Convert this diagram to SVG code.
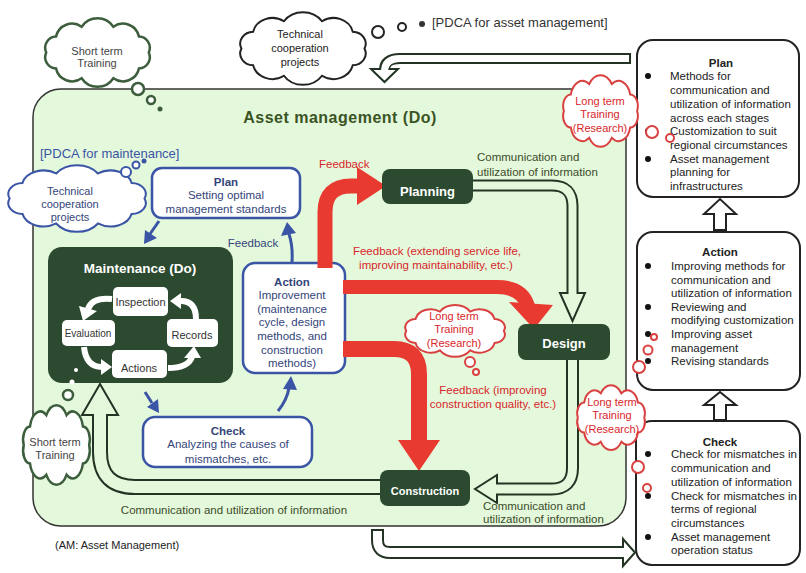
<svg xmlns="http://www.w3.org/2000/svg" width="806" height="573" viewBox="0 0 806 573">
<style>
text{font-family:"Liberation Sans",Arial,Helvetica,sans-serif;font-size:11.5px;fill:#222}
.m{text-anchor:middle}
.b{font-weight:bold}
.red{fill:#d8262a}
.blu{fill:#33457a}
.grn{fill:#3b4c2a}
.gry{fill:#444}
.wh{fill:#fff}
.node{fill:#2c4a30}
.inr{fill:#fff}
.bbox{fill:#fff;stroke:#3a55a5;stroke-width:2.5}
.rbox{fill:#fff;stroke:#222;stroke-width:2}
.cK{fill:#fff;stroke:#222;stroke-width:2}
.cG{fill:#fff;stroke:#3d5e3d;stroke-width:2.5}
.cB{fill:#fff;stroke:#3a55a5;stroke-width:2}
.cR{fill:#fff;stroke:#d94040;stroke-width:2}
.dk{fill:none;stroke:#243424}
.hG{fill:#e4f8dc;stroke:#243424;stroke-width:2;stroke-linejoin:miter}
.hW{fill:#fff;stroke:#243424;stroke-width:2}
.inG{fill:none;stroke:#e4f8dc}
.inW{fill:none;stroke:#fff}
.redA{fill:none;stroke:#e83a30}
.redH{fill:#e83a30}
.bl{fill:none;stroke:#3a55a5;stroke-width:3}
.blH{fill:#3a55a5}
.wA{fill:none;stroke:#fff;stroke-width:6}
.dot{fill:#111}
</style>
<defs>
<path id="cloud" vector-effect="non-scaling-stroke" d="M92,30 A9.1,9.1 0 0 1 84,42.9 A13.5,13.5 0 0 1 63,50.9 A15.6,15.6 0 0 1 37,50.9 A13.5,13.5 0 0 1 16,42.9 A9.1,9.1 0 0 1 8,30 A9.1,9.1 0 0 1 16,17.1 A13.5,13.5 0 0 1 37,9.1 A15.6,15.6 0 0 1 63,9.1 A13.5,13.5 0 0 1 84,17.1 A9.1,9.1 0 0 1 92,30 Z"/>
</defs>

<!-- main frame -->
<g id="asset-management">
<rect x="33" y="89" width="593" height="437" rx="28" fill="#e4f8dc" stroke="#333" stroke-width="1.5"/>
<text class="m b" x="340" y="123" style="font-size:16px;letter-spacing:0.5px;fill:#3a5424">Asset management (Do)</text>
<text x="40" y="158" style="font-size:13px;fill:#3a55a5">[PDCA for maintenance]</text>
</g>

<g id="connectors">
<!-- Planning -> Design -->
<path class="dk" stroke-width="12" d="M473,185.5 L552,185.5 Q572.5,185.5 572.5,206 L572.5,294"/>
<polygon class="hG" points="560,293 585,293 572.5,321"/>
<path class="inG" stroke-width="8" d="M472,185.5 L552,185.5 Q572.5,185.5 572.5,206 L572.5,296"/>
<!-- Design -> Construction -->
<path class="dk" stroke-width="13" d="M572.5,360 L572.5,468 Q572.5,489 551.5,489 L498,489"/>
<polygon class="hG" points="497,475 497,503 475,489"/>
<path class="inG" stroke-width="9" d="M572.5,359 L572.5,468 Q572.5,489 551.5,489 L494,489"/>
<!-- Construction -> Maintenance -->
<path class="dk" stroke-width="16" d="M380,487 L135,487 Q100,487 100,452 L100,416"/>
<polygon class="hG" points="82,415 118,415 100,384"/>
<path class="inG" stroke-width="12" d="M381,487 L135,487 Q100,487 100,452 L100,412"/>
<!-- Plan(AM) -> main -->
<path class="dk" stroke-width="11" d="M631,58.5 L400,58.5 Q384.5,58.5 384.5,70"/>
<polygon class="hW" points="371,69 398,69 384.5,82"/>
<path class="inW" stroke-width="7" d="M629,58.5 L400,58.5 Q384.5,58.5 384.5,72"/>
<!-- main -> Check(AM) -->
<path class="dk" stroke-width="13" d="M377.5,529 L377.5,540 Q377.5,552.5 390,552.5 L624,552.5"/>
<polygon class="hW" points="623,539 623,566 635,552.5"/>
<path class="inW" stroke-width="9" d="M377.5,531 L377.5,540 Q377.5,552.5 390,552.5 L627,552.5"/>
<!-- blue PDCA arrows -->
<path class="bl" d="M159,221 L150,234"/>
<polygon class="blH" points="144,244 157,238 145,230"/>
<path class="bl" d="M145,392 L152,403"/>
<polygon class="blH" points="159,413 158,399 147,407"/>
<path class="bl" d="M278,411 Q287,400 289,388"/>
<polygon class="blH" points="283,389 297,390 291,376"/>
<path class="bl" d="M292,262 Q293,246 289,234"/>
<polygon class="blH" points="281,236 296,233 287,222"/>
</g>

<g id="plan-m">
<rect class="bbox" x="152" y="168" width="148" height="50" rx="10"/>
<text class="m b blu" x="226" y="186">Plan</text>
<text class="m blu" x="226" y="199">Setting optimal</text>
<text class="m blu" x="226" y="213">management standards</text>
</g>
<text class="m blu" x="253" y="247">Feedback</text>

<g id="check-m">
<rect class="bbox" x="143" y="417" width="169" height="50" rx="12"/>
<text class="m b blu" x="228" y="435">Check</text>
<text class="m blu" x="228" y="448">Analyzing the causes of</text>
<text class="m blu" x="228" y="463">mismatches, etc.</text>
</g>

<g id="action-m">
<rect class="bbox" x="243" y="263" width="102" height="110" rx="12"/>
<text class="m b blu" x="292" y="286">Action</text>
<text class="m blu" x="292" y="299">Improvement</text>
<text class="m blu" x="292" y="313">(maintenance</text>
<text class="m blu" x="292" y="326">cycle, design</text>
<text class="m blu" x="292" y="340">methods, and</text>
<text class="m blu" x="292" y="354">construction</text>
<text class="m blu" x="292" y="367">methods)</text>
</g>

<g id="maintenance">
<rect class="node" x="48" y="247" width="185" height="136" rx="14"/>
<text class="m b wh" x="140" y="273" style="font-size:13.5px">Maintenance (Do)</text>
<path class="wA" d="M112,299 Q92,297 88,309"/>
<polygon class="inr" points="79,306 97,311 83,321"/>
<path class="wA" d="M84,347 Q86,367 102,367"/>
<polygon class="inr" points="101,359 101,375 112,367"/>
<path class="wA" d="M168,368 Q188,368 192,357"/>
<polygon class="inr" points="184,358 201,358 194,346"/>
<path class="wA" d="M196,319 Q196,301 181,301"/>
<polygon class="inr" points="181,293 181,309 170,301"/>
<rect class="inr" x="113" y="287" width="55" height="29" rx="5"/>
<text class="m" x="140.5" y="306" style="font-size:11px;fill:#333">Inspection</text>
<rect class="inr" x="62" y="320" width="53" height="26" rx="5"/>
<text class="m" x="88" y="337" style="font-size:10px;fill:#333">Evaluation</text>
<rect class="inr" x="167" y="319" width="51" height="28" rx="5"/>
<text class="m" x="192" y="339" style="font-size:11px;fill:#333">Records</text>
<rect class="inr" x="112" y="350" width="55" height="28" rx="5"/>
<text class="m" x="139" y="372" style="font-size:11px;fill:#333">Actions</text>
</g>

<g id="feedback-arrows">
<path class="redA" stroke-width="15" d="M325,268 L325,212 Q325,186 351,186 L360,186"/>
<polygon class="redH" points="357,167 386,186 357,205"/>
<path class="redA" stroke-width="14" d="M343,287 L497,287 Q522,287 528,306"/>
<polygon class="redH" points="509,302 553,305 534,329"/>
<path class="redA" stroke-width="16" d="M343,349 L394,349 Q419,349 419,374 L419,442"/>
<polygon class="redH" points="398,440 440,440 419,471"/>
<text class="red" x="319" y="168">Feedback</text>
<text class="m red" x="437" y="255">Feedback (extending service life,</text>
<text class="m red" x="436" y="269">improving maintainability, etc.)</text>
<text class="m red" x="493" y="394">Feedback (improving</text>
<text class="m red" x="493" y="408">construction quality, etc.)</text>
</g>

<g id="planning">
<rect class="node" x="382" y="169" width="91" height="35" rx="8"/>
<text class="m b wh" x="427.5" y="196" style="font-size:13px">Planning</text>
</g>
<g id="design">
<rect class="node" x="518" y="324" width="92" height="36" rx="8"/>
<text class="m b wh" x="564" y="348" style="font-size:13px">Design</text>
</g>
<g id="construction">
<rect class="node" x="380" y="470" width="90" height="36" rx="8"/>
<text class="m b wh" x="425" y="495" style="font-size:11px">Construction</text>
</g>

<g id="info-labels">
<text class="grn" x="477" y="161">Communication and</text>
<text class="grn" x="477" y="176">utilization of information</text>
<text class="grn" x="483" y="510">Communication and</text>
<text class="grn" x="483" y="523">utilization of information</text>
<text class="m grn" x="234" y="514">Communication and utilization of information</text>
</g>

<text x="55" y="549" style="font-size:11px">(AM: Asset Management)</text>
<circle cx="422" cy="24" r="3" fill="#333"/>
<text x="432" y="27" style="font-size:13px;fill:#333">[PDCA for asset management]</text>

<g id="plan-am">
<rect class="rbox" x="637" y="40" width="162" height="157" rx="16"/>
<text class="m b" x="721" y="67">Plan</text>
<circle class="dot" cx="648" cy="76" r="3"/>
<circle class="dot" cx="648" cy="131" r="3"/>
<circle class="dot" cx="648" cy="159" r="3"/>
<text x="670" y="80">Methods for</text>
<text x="670" y="94">communication and</text>
<text x="670" y="108">utilization of information</text>
<text x="670" y="122">across each stages</text>
<text x="670" y="135">Customization to suit</text>
<text x="670" y="149">regional circumstances</text>
<text x="670" y="163">Asset management</text>
<text x="670" y="176">planning for</text>
<text x="670" y="190">infrastructures</text>
</g>
<polygon class="rbox" points="714,230 714,214 704,214 720,199 736,214 726,214 726,230"/>
<g id="action-am">
<rect class="rbox" x="637" y="232" width="163" height="158" rx="16"/>
<text class="m b" x="720" y="256">Action</text>
<circle class="dot" cx="648" cy="266" r="3"/>
<circle class="dot" cx="648" cy="307" r="3"/>
<circle class="dot" cx="648" cy="334" r="3"/>
<circle class="dot" cx="648" cy="361" r="3"/>
<text x="671" y="270">Improving methods for</text>
<text x="671" y="284">communication and</text>
<text x="671" y="297">utilization of information</text>
<text x="671" y="311">Reviewing and</text>
<text x="671" y="324">modifying customization</text>
<text x="671" y="338">Improving asset</text>
<text x="671" y="352">management</text>
<text x="671" y="365">Revising standards</text>
</g>
<polygon class="rbox" points="714,420 714,405 704,405 720,392 736,405 726,405 726,420"/>
<g id="check-am">
<rect class="rbox" x="636" y="421" width="164" height="144" rx="16"/>
<text class="m b" x="720" y="446">Check</text>
<circle class="dot" cx="648" cy="454" r="3"/>
<circle class="dot" cx="648" cy="496" r="3"/>
<circle class="dot" cx="648" cy="537" r="3"/>
<text x="671" y="458">Check for mismatches in</text>
<text x="671" y="472">communication and</text>
<text x="671" y="486">utilization of information</text>
<text x="671" y="500">Check for mismatches in</text>
<text x="671" y="513">terms of regional</text>
<text x="671" y="527">circumstances</text>
<text x="671" y="541">Asset management</text>
<text x="671" y="554">operation status</text>
</g>

<g id="cloud-short-top">
<use href="#cloud" class="cG" transform="translate(36.45,15.54) scale(1.221,1.232)"/>
<circle class="cG" cx="138" cy="89" r="6"/>
<circle class="cG" cx="151" cy="100" r="4"/>
<circle cx="160" cy="109" r="2.5" fill="#3d5e3d"/>
<text class="m gry" x="97" y="55" style="font-size:11px">Short term</text>
<text class="m gry" x="97" y="67" style="font-size:11px">Training</text>
</g>
<g id="cloud-tech-top">
<use href="#cloud" class="cK" transform="translate(229.7,9.4) scale(1.465,1.304)"/>
<circle class="cK" cx="378" cy="32" r="6"/>
<circle class="cK" cx="402" cy="27" r="4"/>
<text class="m" x="300" y="38" style="font-size:11px">Technical</text>
<text class="m" x="300" y="52" style="font-size:11px">cooperation</text>
<text class="m" x="300" y="66" style="font-size:11px">projects</text>
</g>
<g id="cloud-tech-left">
<use href="#cloud" class="cB" transform="translate(-3.2,162.6) scale(1.605,1.196)"/>
<circle class="cB" cx="126" cy="172" r="5"/>
<circle class="cB" cx="136" cy="165" r="3.5"/>
<circle cx="144" cy="161" r="2.5" fill="#3a55a5"/>
<text class="m blu" x="70" y="195" style="font-size:11px">Technical</text>
<text class="m blu" x="70" y="208" style="font-size:11px">cooperation</text>
<text class="m blu" x="70" y="221" style="font-size:11px">projects</text>
</g>
<g id="cloud-long-top">
<use href="#cloud" class="cR" transform="translate(556.9,72.4) scale(0.872,1.286)"/>
<circle class="cR" cx="652" cy="132" r="6"/>
<circle class="cR" cx="670" cy="138" r="4"/>
<text class="m red" x="600" y="105" style="font-size:11px">Long term</text>
<text class="m red" x="600" y="118" style="font-size:11px">Training</text>
<text class="m red" x="600" y="132" style="font-size:11px">(Research)</text>
</g>
<g id="cloud-long-mid">
<use href="#cloud" class="cR" transform="translate(396.9,303.1) scale(1.163,0.929)"/>
<circle class="cR" cx="470" cy="362" r="5"/>
<circle class="cR" cx="476" cy="372" r="3"/>
<text class="m red" x="454" y="320" style="font-size:11px">Long term</text>
<text class="m red" x="454" y="333" style="font-size:11px">Training</text>
<text class="m red" x="454" y="347" style="font-size:11px">(Research)</text>
</g>
<g id="cloud-long-low">
<use href="#cloud" class="cR" transform="translate(571.5,382.7) scale(0.791,1.161)"/>
<circle class="cR" cx="639" cy="367" r="6"/>
<circle class="cR" cx="648" cy="350" r="4.5"/>
<circle class="cR" cx="654" cy="337" r="3"/>
<circle class="cR" cx="638" cy="467" r="6"/>
<circle class="cR" cx="647" cy="488" r="4"/>
<text class="m red" x="612" y="406" style="font-size:11px">Long term</text>
<text class="m red" x="612" y="419" style="font-size:11px">Training</text>
<text class="m red" x="612" y="433" style="font-size:11px">(Research)</text>
</g>
<g id="cloud-short-low">
<use href="#cloud" class="cG" transform="translate(17.5,402.1) scale(0.779,1.429)"/>
<circle class="cG" cx="68" cy="395" r="5"/>
<circle cx="72" cy="382" r="2.5" fill="#fff"/>
<circle cx="76" cy="370" r="2" fill="#fff"/>
<text class="m gry" x="55" y="446" style="font-size:11px">Short term</text>
<text class="m gry" x="55" y="459" style="font-size:11px">Training</text>
</g>
</svg>
